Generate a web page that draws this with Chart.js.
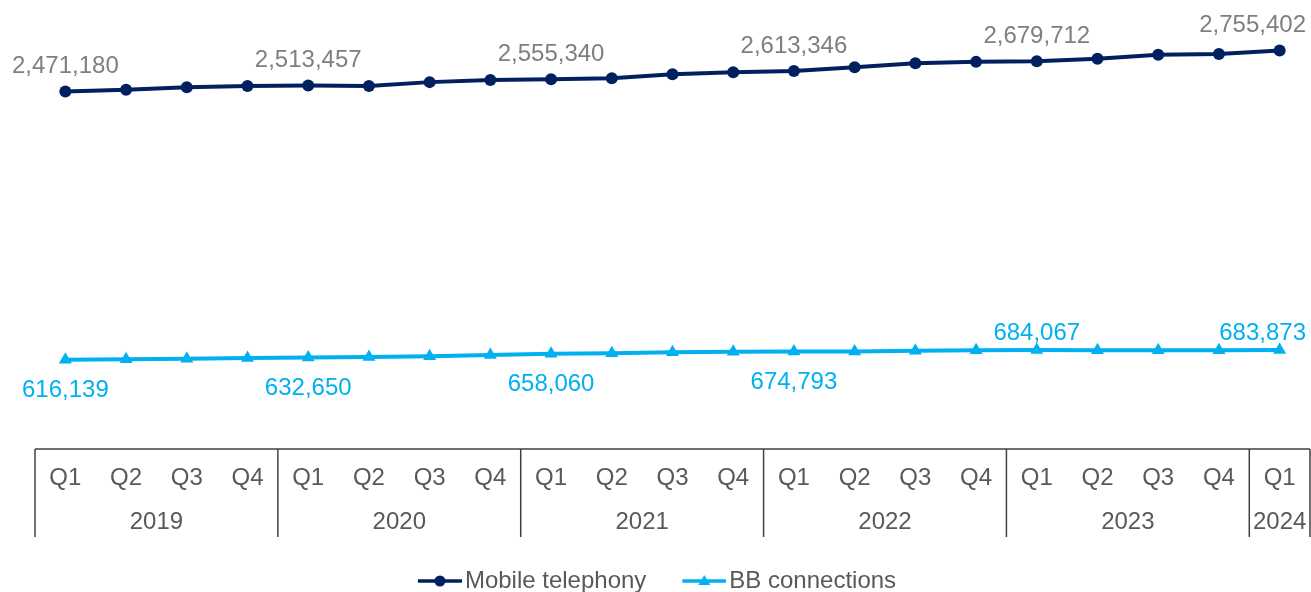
<!DOCTYPE html>
<html>
<head>
<meta charset="utf-8">
<script src="https://cdn.jsdelivr.net/npm/chart.js@4"></script>
<style>
  html, body { margin: 0; padding: 0; background: #fff; }
  canvas { display: block; }
</style>
</head>
<body>
<canvas id="chart" width="1311" height="592"></canvas>
<script>
const quarters = ['Q1','Q2','Q3','Q4','Q1','Q2','Q3','Q4','Q1','Q2','Q3','Q4','Q1','Q2','Q3','Q4','Q1','Q2','Q3','Q4','Q1'];
const years = ['2019', '2020', '2021', '2022', '2023', '2024'];
const quartersPerYear = [4, 4, 4, 4, 4, 1];

const mobileData = [2471180, 2483000, 2500000, 2510000, 2513457, 2509000, 2536000, 2550000,
                    2555340, 2562000, 2590000, 2604000, 2613346, 2639000, 2667000, 2676000,
                    2679712, 2698000, 2726000, 2731000, 2755402];
const bbData = [616139, 620000, 624000, 628500, 632650, 636000, 641000, 650000,
                658060, 662000, 668000, 672000, 674793, 673500, 680000, 682500,
                684067, 682000, 682500, 683000, 683873];

// which points carry a value label, and on which side
const labelIndex = [0, 4, 8, 12, 16, 20];
const mobileLabelSide = ['above', 'above', 'above', 'above', 'above', 'above'];
const bbLabelSide = ['below', 'below', 'below', 'below', 'above', 'above'];

const FONT = '"Liberation Sans", Arial, sans-serif';
const navy = '#002060';
const cyan = '#00B0F0';
const axisText = '#595959';

Chart.defaults.font.family = FONT;
Chart.defaults.font.size = 24;

// legend icons: line with marker, like the office chart legend
function legendIcon(color, shape) {
    const c = document.createElement('canvas');
    c.width = 57; c.height = 16;
    const g = c.getContext('2d');
    g.strokeStyle = color;
    g.fillStyle = color;
    g.lineWidth = 3.5;
    g.beginPath();
    g.moveTo(13, 8);
    g.lineTo(57, 8);
    g.stroke();
    g.beginPath();
    if (shape === 'circle') {
        g.arc(35, 8, 5.5, 0, Math.PI * 2);
    } else {
        g.moveTo(35, 2);
        g.lineTo(41, 12);
        g.lineTo(29, 12);
        g.closePath();
    }
    g.fill();
    return c;
}
const icons = [legendIcon(navy, 'circle'), legendIcon(cyan, 'triangle')];

const valueLabels = {
    id: 'valueLabels',
    afterDatasetsDraw(chart) {
        const ctx = chart.ctx;
        const sides = [mobileLabelSide, bbLabelSide];
        const colors = ['#7F7F7F', cyan];
        const aboveGap = [25, 17];
        ctx.save();
        ctx.font = '24px ' + FONT;
        ctx.textAlign = 'center';
        ctx.textBaseline = 'middle';
        chart.data.datasets.forEach((ds, di) => {
            const meta = chart.getDatasetMeta(di);
            ctx.fillStyle = colors[di];
            labelIndex.forEach((idx, k) => {
                const pt = meta.data[idx];
                const text = ds.data[idx].toLocaleString('en-US');
                const w = ctx.measureText(text).width;
                let x = Math.min(pt.x, chart.width - 5 - w / 2);
                x = Math.max(x, 5 + w / 2);
                const y = sides[di][k] === 'above' ? pt.y - aboveGap[di] : pt.y + 31;
                ctx.fillText(text, x, y);
            });
        });
        ctx.restore();
    }
};

// two-level category table under the plot
const categoryTable = {
    id: 'categoryTable',
    afterDraw(chart) {
        const ctx = chart.ctx;
        const xs = chart.scales.x;
        const area = chart.chartArea;
        const top = area.bottom;
        const bottom = top + 88;
        const half = (xs.getPixelForValue(1) - xs.getPixelForValue(0)) / 2;
        ctx.save();
        ctx.strokeStyle = '#404040';
        ctx.lineWidth = 1.5;
        ctx.beginPath();
        ctx.moveTo(area.left, top);
        ctx.lineTo(area.right, top);
        ctx.stroke();

        ctx.font = '24px ' + FONT;
        ctx.fillStyle = axisText;
        ctx.textAlign = 'center';
        ctx.textBaseline = 'middle';
        quarters.forEach((q, i) => {
            ctx.fillText(q, xs.getPixelForValue(i), top + 29);
        });

        let start = 0;
        years.forEach((yr, j) => {
            const n = quartersPerYear[j];
            const x0 = xs.getPixelForValue(start) - half;
            const x1 = xs.getPixelForValue(start + n - 1) + half;
            ctx.beginPath();
            ctx.moveTo(x0, top);
            ctx.lineTo(x0, bottom);
            if (j === years.length - 1) {
                ctx.moveTo(x1, top);
                ctx.lineTo(x1, bottom);
            }
            ctx.stroke();
            ctx.fillText(yr, (x0 + x1) / 2, top + 73);
            start += n;
        });
        ctx.restore();
    }
};

new Chart(document.getElementById('chart').getContext('2d'), {
    type: 'line',
    data: {
        labels: quarters,
        datasets: [
            {
                label: 'Mobile telephony',
                data: mobileData,
                borderColor: navy,
                backgroundColor: navy,
                borderWidth: 4,
                pointStyle: 'circle',
                pointRadius: 6,
                pointBorderWidth: 0,
                tension: 0
            },
            {
                label: 'BB connections',
                data: bbData,
                borderColor: cyan,
                backgroundColor: cyan,
                borderWidth: 4,
                pointStyle: 'triangle',
                pointRadius: 7.5,
                pointBorderWidth: 0,
                tension: 0
            }
        ]
    },
    options: {
        responsive: false,
        animation: false,
        devicePixelRatio: 1,
        layout: {
            autoPadding: false,
            padding: { top: 15, right: 1, left: 0, bottom: 0 }
        },
        plugins: {
            tooltip: { enabled: false },
            legend: {
                position: 'bottom',
                maxHeight: 55,
                labels: {
                    usePointStyle: true,
                    pointStyleWidth: 39,
                    padding: 32,
                    color: axisText,
                    font: { size: 24, family: FONT },
                    generateLabels(chart) {
                        return chart.data.datasets.map((ds, i) => ({
                            text: ds.label,
                            fillStyle: ds.borderColor,
                            strokeStyle: ds.borderColor,
                            lineWidth: 0,
                            pointStyle: icons[i],
                            fontColor: axisText,
                            hidden: false,
                            datasetIndex: i
                        }));
                    }
                }
            }
        },
        scales: {
            x: {
                offset: true,
                grid: { display: false },
                border: { display: false },
                ticks: { display: false },
                afterFit(scale) { scale.height = 88; }
            },
            y: {
                min: 0,
                max: 3000000,
                grid: { display: false },
                border: { display: false },
                ticks: { display: false },
                afterFit(scale) { scale.width = 35; }
            }
        }
    },
    plugins: [valueLabels, categoryTable]
});
</script>
</body>
</html>
